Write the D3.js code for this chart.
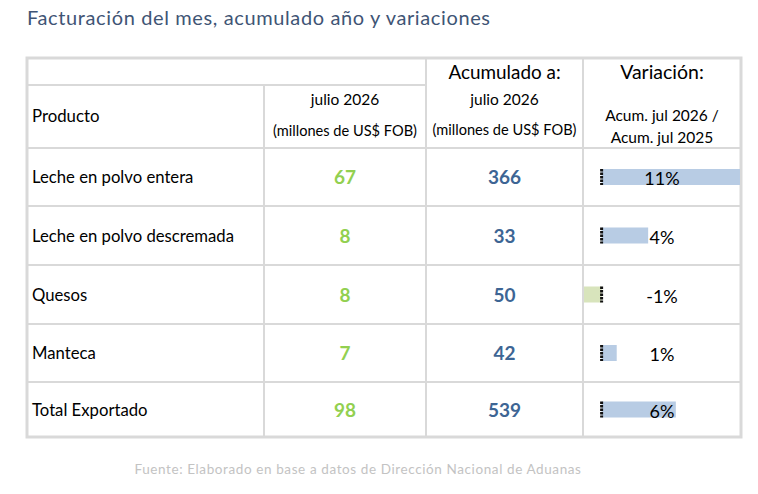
<!DOCTYPE html>
<html lang="es">
<head>
<meta charset="utf-8">
<title>Facturación del mes, acumulado año y variaciones</title>
<script src="https://d3js.org/d3.v7.min.js"></script>
<style>
  body { margin: 0; background: #fff; }
  svg text { font-family: Lato, "Open Sans", sans-serif; }
</style>
</head>
<body>
<div id="chart"></div>
<script>
var productos = ["Leche en polvo entera", "Leche en polvo descremada", "Quesos", "Manteca", "Total Exportado"];
var mes = [67, 8, 8, 7, 98];
var acumulado = [366, 33, 50, 42, 539];
var variacion = [11.0, 3.7, -1.4, 1.2, 5.9];
var etiquetas = ["11%", "4%", "-1%", "1%", "6%"];

var W = 758, H = 494;
var colX = [27, 264, 426, 583, 741];
var top0 = 58, mid0 = 85;
var rowY = [148, 206, 265, 324, 382, 437];
var grid = "#d9d9d9";

var svg = d3.select("#chart").append("svg")
    .attr("width", W)
    .attr("height", H);

// title
svg.append("text")
    .attr("x", 27).attr("y", 25)
    .attr("font-size", 20)
    .attr("letter-spacing", 0.62)
    .attr("fill", "#3f5575")
    .text("Facturación del mes, acumulado año y variaciones");

// grid lines
var g = svg.append("g").attr("stroke", grid).attr("stroke-width", 2);
g.append("line").attr("x1", colX[0]).attr("x2", colX[2]).attr("y1", mid0).attr("y2", mid0);
g.selectAll(".h").data(rowY).enter().append("line")
    .attr("x1", colX[0]).attr("x2", colX[4])
    .attr("y1", function(d) { return d; }).attr("y2", function(d) { return d; });
g.append("line").attr("x1", colX[1]).attr("x2", colX[1]).attr("y1", mid0).attr("y2", rowY[5]);
g.selectAll(".v").data([colX[2], colX[3]]).enter().append("line")
    .attr("x1", function(d) { return d; }).attr("x2", function(d) { return d; })
    .attr("y1", top0).attr("y2", rowY[5]);
svg.append("rect")
    .attr("x", colX[0]).attr("y", top0)
    .attr("width", colX[4] - colX[0]).attr("height", rowY[5] - top0)
    .attr("fill", "none").attr("stroke", grid).attr("stroke-width", 3);

// header texts
function cx(i) { return (colX[i] + colX[i + 1]) / 2; }
var head = [
  {x: colX[0] + 5, y: 122, t: "Producto", s: 16.8, a: "start"},
  {x: cx(1), y: 105, t: "julio 2026", s: 15.5, a: "middle"},
  {x: cx(1), y: 136, t: "(millones de US$ FOB)", s: 14.6, a: "middle"},
  {x: cx(2), y: 79, t: "Acumulado a:", s: 18.9, a: "middle"},
  {x: cx(2), y: 105, t: "julio 2026", s: 15.5, a: "middle"},
  {x: cx(2), y: 135, t: "(millones de US$ FOB)", s: 14.6, a: "middle"},
  {x: cx(3), y: 79, t: "Variación:", s: 19.5, a: "middle"},
  {x: cx(3), y: 121, t: "Acum. jul 2026 /", s: 15.5, a: "middle"},
  {x: cx(3), y: 143, t: "Acum. jul 2025", s: 15.5, a: "middle"}
];
svg.selectAll(".head").data(head).enter().append("text")
    .attr("x", function(d) { return d.x; })
    .attr("y", function(d) { return d.y; })
    .attr("font-size", function(d) { return d.s; })
    .attr("text-anchor", function(d) { return d.a; })
    .attr("fill", "#000")
    .text(function(d) { return d.t; });

// rows
function rowMid(i) { return (rowY[i] + rowY[i + 1]) / 2; }
svg.selectAll(".prod").data(productos).enter().append("text")
    .attr("x", colX[0] + 5)
    .attr("y", function(d, i) { return rowMid(i) + 6; })
    .attr("font-size", 16.7)
    .attr("fill", "#000")
    .text(function(d) { return d; });

svg.selectAll(".mes").data(mes).enter().append("text")
    .attr("x", cx(1))
    .attr("y", function(d, i) { return rowMid(i) + 7; })
    .attr("text-anchor", "middle")
    .attr("font-size", 19).attr("font-weight", "bold")
    .attr("fill", "#92d050")
    .text(function(d) { return d; });

svg.selectAll(".acum").data(acumulado).enter().append("text")
    .attr("x", cx(2))
    .attr("y", function(d, i) { return rowMid(i) + 7; })
    .attr("text-anchor", "middle")
    .attr("font-size", 19).attr("font-weight", "bold")
    .attr("fill", "#3d6594")
    .text(function(d) { return d; });

// variation data bars (excel style)
var x = d3.scaleLinear()
    .domain(d3.extent(variacion))
    .range([colX[3] + 1, colX[4] - 1]);
var barH = 16;

svg.selectAll(".bar").data(variacion).enter().append("rect")
    .attr("x", function(d) { return Math.min(x(0), x(d)); })
    .attr("width", function(d) { return Math.abs(x(d) - x(0)); })
    .attr("y", function(d, i) { return rowMid(i) - 8; })
    .attr("height", barH)
    .attr("fill", function(d) { return d < 0 ? "#d8e4bc" : "#b8cce4"; });

// dashed zero axis
svg.selectAll(".axis").data(variacion).enter().append("line")
    .attr("x1", x(0)).attr("x2", x(0))
    .attr("y1", function(d, i) { return rowMid(i) - 8; })
    .attr("y2", function(d, i) { return rowMid(i) - 8 + barH; })
    .attr("stroke", "#111").attr("stroke-width", 3)
    .attr("stroke-dasharray", "2.5,1");

svg.selectAll(".pct").data(etiquetas).enter().append("text")
    .attr("x", cx(3))
    .attr("y", function(d, i) { return rowMid(i) + 8; })
    .attr("text-anchor", "middle")
    .attr("font-size", 18)
    .attr("fill", "#000")
    .text(function(d) { return d; });

// source
svg.append("text")
    .attr("x", 358).attr("y", 474)
    .attr("text-anchor", "middle")
    .attr("font-size", 13.5)
    .attr("letter-spacing", 0.6)
    .attr("fill", "#c3c3c3")
    .text("Fuente: Elaborado en base a datos de Dirección Nacional de Aduanas");
</script>
</body>
</html>
